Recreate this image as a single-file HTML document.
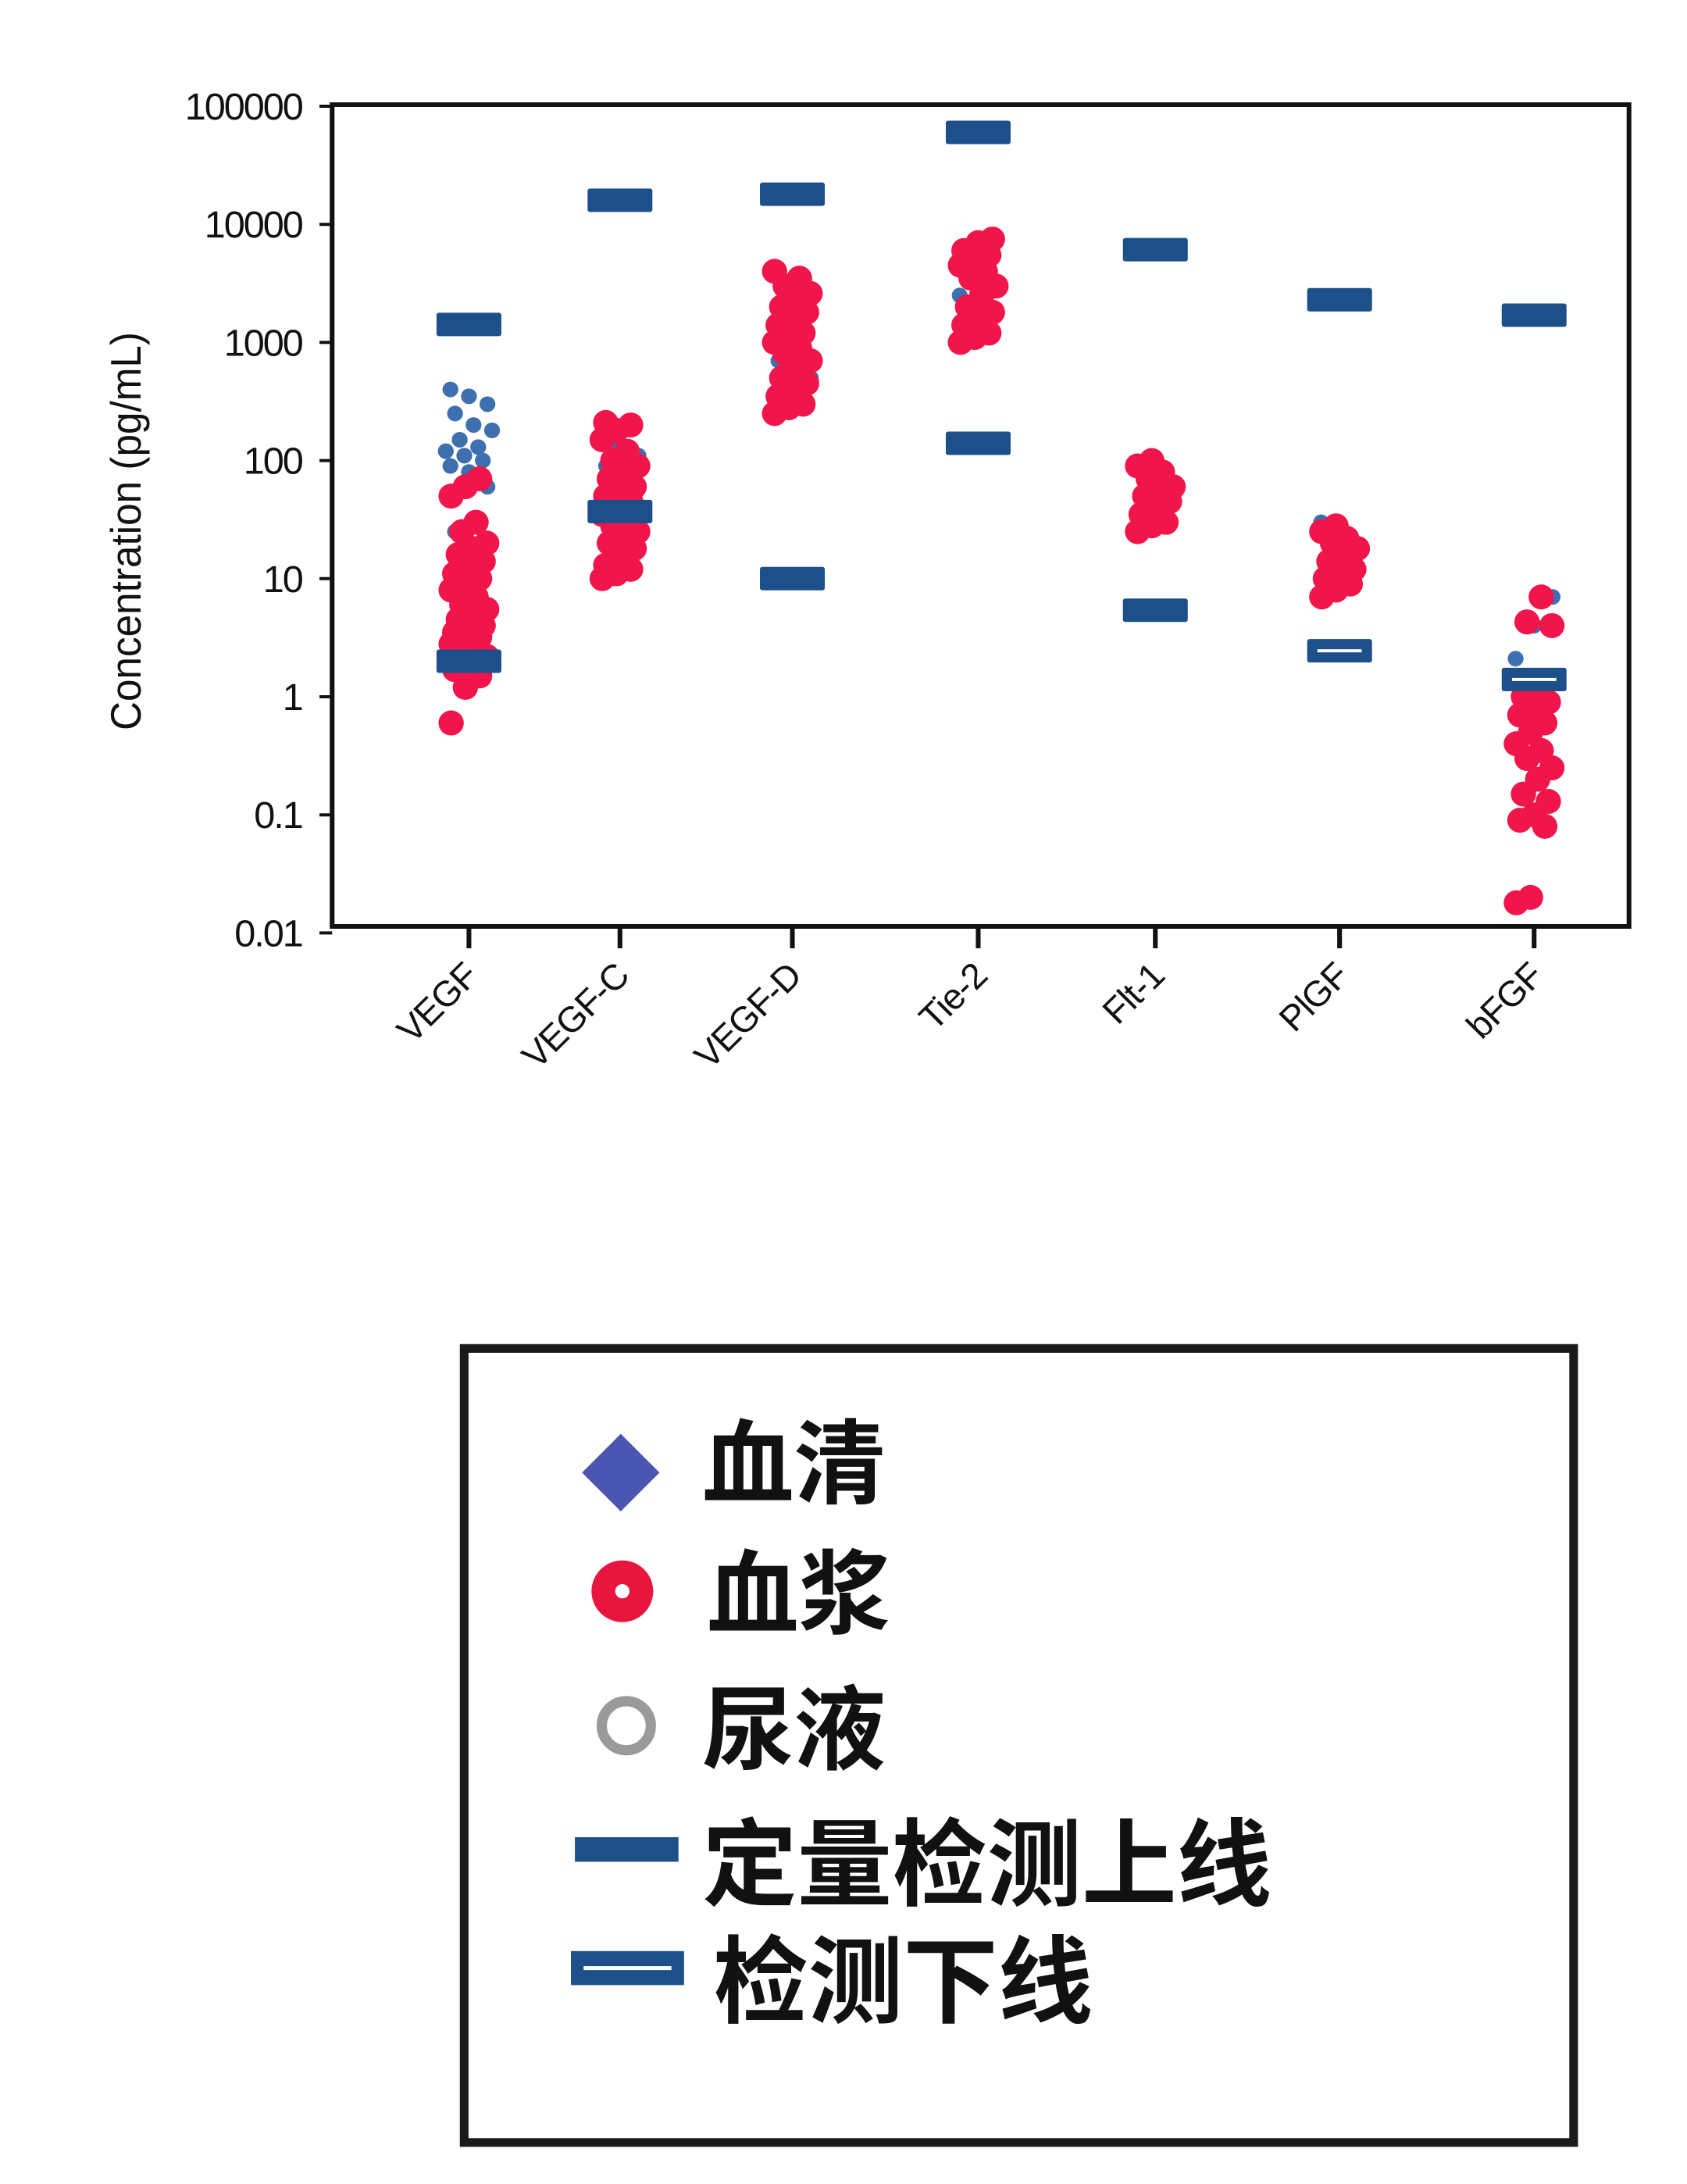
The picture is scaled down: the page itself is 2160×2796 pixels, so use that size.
<!DOCTYPE html>
<html><head><meta charset="utf-8"><style>
html,body{margin:0;padding:0;background:#fff;}
svg{display:block;}
</style></head><body>
<svg id="chart" width="2160" height="2796" viewBox="0 0 2160 2796" xmlns="http://www.w3.org/2000/svg">
<rect width="2160" height="2796" fill="#fff"/>
<g id="plot" transform="scale(1.0125,1)"></g>
<g id="legend" transform="scale(1.0125)">
  <rect x="587" y="1705" width="1403" height="1004" fill="none" stroke="#1a1a1a" stroke-width="11"/>
  <g>
    <polygon points="785,1813 834,1862 785,1911 736,1862" fill="#4a56b0"/>
    <text x="888" y="1892" font-family="'Liberation Sans','Noto Sans CJK SC',sans-serif" font-weight="bold" font-size="116" fill="#111">血清</text>
  </g>
  <g>
    <circle cx="787" cy="2012" r="39" fill="#e8153f"/><circle cx="787" cy="2012" r="9" fill="#fff"/>
    <text x="894" y="2057" font-family="'Liberation Sans','Noto Sans CJK SC',sans-serif" font-weight="bold" font-size="116" fill="#111">血浆</text>
  </g>
  <g>
    <circle cx="792" cy="2182" r="31" fill="none" stroke="#9a9a9a" stroke-width="13"/>
    <text x="888" y="2228" font-family="'Liberation Sans','Noto Sans CJK SC',sans-serif" font-weight="bold" font-size="116" fill="#111">尿液</text>
  </g>
  <g>
    <rect x="727" y="2323" width="131" height="31" fill="#1d4f8a"/>
    <text x="888" y="2400" font-family="'Liberation Sans','Noto Sans CJK SC',sans-serif" font-weight="bold" font-size="120" fill="#111">定量检测上线</text>
  </g>
  <g>
    <rect x="722" y="2467" width="143" height="43" fill="#1d4f8a"/>
    <rect x="738" y="2486" width="111" height="5" fill="#fff"/>
    <text x="902" y="2548" font-family="'Liberation Sans','Noto Sans CJK SC',sans-serif" font-weight="bold" font-size="120" fill="#111">检测下线</text>
  </g>
</g>
</svg>
<script>
const categories = ["VEGF","VEGF-C","VEGF-D","Tie-2","Flt-1","PlGF","bFGF"];
const upperLimit = [1420,16000,18000,60000,6100,2300,1700];
const lowerLimit = [2,37,10,140,5.4,2.45,1.4];
const plasmaVEGF = [0.6,1.2,1.5,1.7,1.8,2,2,2.1,2.2,2.4,2.5,2.8,3,3.2,3.5,3.8,4,4.5,5,5.5,6,7,8,9,10,11,12,14,16,18,20,25,30,50,60,70];
const plasmaVEGFC = [10,11,12,13,15,18,20,22,25,28,30,35,40,45,50,55,60,70,80,90,100,120,150,180,200,210];
const plasmaVEGFD = [250,280,300,350,400,450,500,600,700,800,900,1000,1100,1200,1400,1600,1800,2000,2300,2600,3000,3500,4000];
const plasmaTie2 = [1000,1100,1200,1400,1600,1800,2000,2500,3000,3500,4000,4500,5000,5500,6000,7000,7500];
const plasmaFlt1 = [25,28,30,35,40,45,50,55,60,70,80,90,100];
const plasmaPlGF = [7,8,9,10,11,12,14,16,18,20,22,25,28];
const plasmaBFGF = [0.018,0.02,0.08,0.09,0.1,0.13,0.15,0.2,0.25,0.3,0.35,0.4,0.5,0.6,0.7,0.8,0.9,1.0,1.2,4,4.3,7];
const serumVEGF = [400,350,300,250,200,180,150,130,120,110,100,90,80,60,25,15];
const serumVEGFC = [150,130,110,90,70,40];
const serumVEGFD = [280,350,500,700,900];
const serumTie2 = [2500,3000];
const serumFlt1 = [];
const serumPlGF = [30];
const serumBFGF = [2.1,4,7];
const yTicks = [100000,10000,1000,100,10,1,0.1,0.01];
const yTickLabels = ["100000","10000","1000","100","10","1","0.1","0.01"];

const NS="http://www.w3.org/2000/svg";
const L=420,R=2060,T=134,B=1186;
const yTop=136, dec=151.2;
function yScale(v){return yTop+(5-Math.log10(v))*dec;}
const catX=[593,784,1002,1237,1461,1694,1940];
function xScale(i){return catX[i];}
const plot=document.getElementById('plot');
function mk(tag,attrs,parent){const e=document.createElementNS(NS,tag);for(const k in attrs)e.setAttribute(k,attrs[k]);(parent||plot).appendChild(e);return e;}

const frame=mk('rect',{x:L,y:T,width:R-L,height:B-T,fill:'none',stroke:'#111','stroke-width':6});


yTicks.forEach((v,i)=>{
  const y=yScale(v);
  const t=mk('line',{x1:404,x2:L,y1:y,y2:y,stroke:'#111','stroke-width':4});
  
  
  const tx=mk('text',{x:382,y:y+17,'text-anchor':'end','font-family':'Liberation Sans, sans-serif','font-size':48,'letter-spacing':-2,fill:'#111'});
  tx.textContent=yTickLabels[i];
  
  
});
const yt=mk('text',{x:0,y:0,transform:'translate(178,680) rotate(-90)','text-anchor':'middle','font-family':'Liberation Sans, sans-serif','font-size':54,fill:'#111',textLength:510,lengthAdjust:'spacingAndGlyphs'});
yt.textContent='Concentration (pg/mL)';



categories.forEach((c,i)=>{
  const x=xScale(i);
  const t=mk('line',{x1:x,x2:x,y1:B,y2:1214,stroke:'#111','stroke-width':6});
  
  
  const tx=mk('text',{x:0,y:0,transform:`translate(${x+14},${1252}) rotate(-45)`,'text-anchor':'end','font-family':'Liberation Sans, sans-serif','font-size':46,'letter-spacing':-1,fill:'#111'});
  tx.textContent=c;
  
  
});

const plasma=[plasmaVEGF,plasmaVEGFC,plasmaVEGFD,plasmaTie2,plasmaFlt1,plasmaPlGF,plasmaBFGF];
const serum=[serumVEGF,serumVEGFC,serumVEGFD,serumTie2,serumFlt1,serumPlGF,serumBFGF];
function jit(k){return ((k*37)%11-5)*4.5;}

categories.forEach((c,i)=>{
  const x=xScale(i);
  serum[i].forEach((v,k)=>{
    const d=mk('circle',{cx:x+jit(k+3)*1.3,cy:yScale(v),r:10,fill:'#3e6fae'});
    
    
  });
  plasma[i].forEach((v,k)=>{
    const d=mk('circle',{cx:x+jit(k),cy:yScale(v),r:16,fill:'#f0154a'});
    
    
  });
});
categories.forEach((c,i)=>{
  const x=xScale(i);
  const u=mk('rect',{x:x-41,y:yScale(upperLimit[i])-15,width:82,height:30,fill:'#1d4f8a',rx:3});
  
  
  const l=mk('rect',{x:x-41,y:yScale(lowerLimit[i])-15,width:82,height:30,fill:'#1d4f8a',rx:3});
  
  
  if(i>=5){
    const w=mk('rect',{x:x-28,y:yScale(lowerLimit[i])-2,width:56,height:4,fill:'#fff'});
    
    
  }
});
</script>
</body></html>
